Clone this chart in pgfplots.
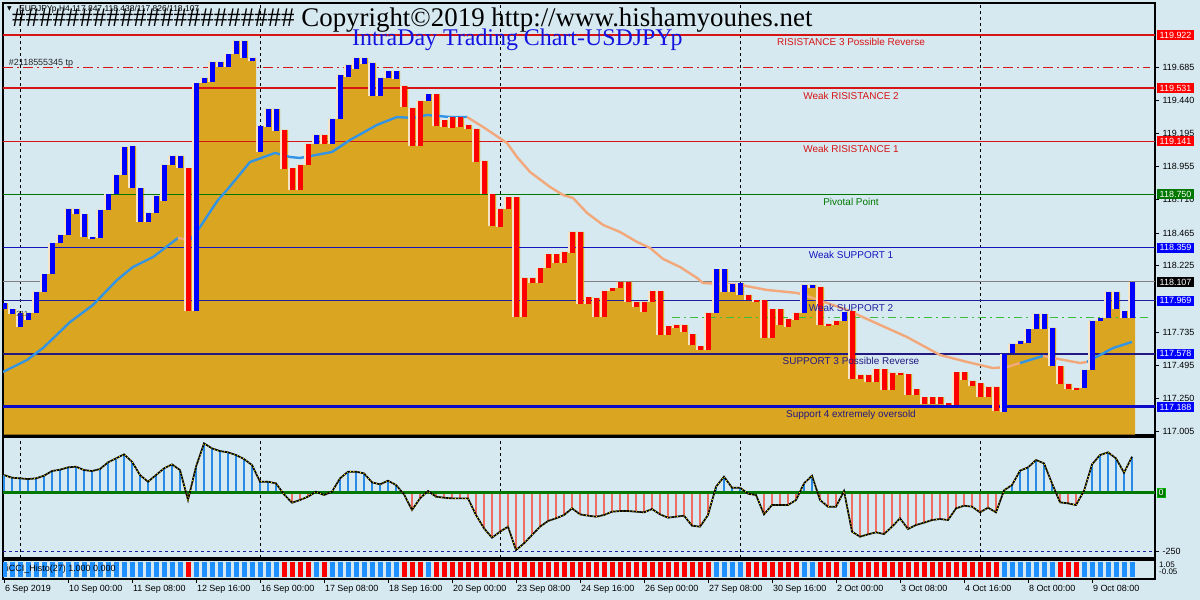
\documentclass[border=0pt]{standalone}
\usepackage{pgfplots}
\pgfplotsset{compat=1.18}
\usepackage{pgfplotstable}
\usepackage{fontspec}
\setmainfont{Liberation Sans}
\newfontfamily\titleserif{Liberation Serif}
\newfontfamily\dejavu{DejaVu Sans}
\newcommand\tf{\fontsize{9}{10.5}\selectfont}
\newcommand\lf{\fontsize{10}{12}\selectfont}
\definecolor{bg}{RGB}{214,233,241}
\definecolor{gold}{RGB}{218,165,32}
\definecolor{barblue}{RGB}{0,0,255}
\definecolor{barred}{RGB}{255,0,0}
\definecolor{pale}{RGB}{246,228,200}
\definecolor{mablue}{RGB}{52,148,228}
\definecolor{maorange}{RGB}{242,168,122}
\definecolor{stemblue}{RGB}{40,140,230}
\definecolor{stemred}{RGB}{238,110,95}
\definecolor{stripblue}{RGB}{30,144,255}
\definecolor{levred}{RGB}{215,20,20}
\definecolor{levgreen}{RGB}{0,120,0}
\definecolor{s1blue}{RGB}{20,20,190}
\definecolor{s2blue}{RGB}{30,30,160}
\definecolor{s3navy}{RGB}{35,25,130}
\definecolor{s4blue}{RGB}{10,10,200}
\definecolor{subblue}{RGB}{20,20,225}
\definecolor{dashgreen}{RGB}{60,190,60}

\pgfplotstableread{
i lo hi c cci
1 117.908 117.952 1 74.8
2 117.872 117.908 1 63.5
3 117.776 117.879 1 60.7
4 117.827 117.879 1 57.9
5 117.879 118.033 1 60.7
6 118.033 118.165 1 72.0
7 118.165 118.393 1 91.8
8 118.393 118.452 1 97.4
9 118.452 118.643 1 107.3
10 118.606 118.643 1 110.1
11 118.437 118.606 1 96.0
12 118.423 118.437 1 91.8
13 118.430 118.636 1 100.3
14 118.636 118.753 1 128.5
15 118.753 118.893 1 145.4
16 118.893 119.099 1 162.4
17 118.797 119.106 1 131.3
18 118.548 118.797 1 74.8
19 118.548 118.614 1 46.6
20 118.614 118.739 1 74.8
21 118.702 118.967 1 103.1
22 118.967 119.033 1 120.0
23 118.944 119.033 1 96.0
24 117.893 118.944 0 -31.1
25 117.893 119.569 1 110.1
26 119.569 119.606 1 209.0
27 119.577 119.724 1 187.8
28 119.687 119.724 1 176.5
29 119.687 119.782 1 170.9
30 119.782 119.878 1 159.6
31 119.753 119.878 1 142.6
32 119.731 119.753 1 117.2
33 119.062 119.253 1 46.6
34 119.246 119.378 1 46.6
35 119.217 119.378 1 39.5
36 118.937 119.224 0 -7.1
37 118.783 118.944 0 -42.4
38 118.783 118.967 0 -31.1
39 118.967 119.121 0 -16.9
40 119.121 119.187 1 4.2
41 119.121 119.187 0 -9.9
42 119.121 119.305 1 4.2
43 119.305 119.628 1 60.7
44 119.613 119.702 1 89.0
45 119.672 119.753 1 89.0
46 119.709 119.753 1 81.9
47 119.474 119.716 1 43.8
48 119.474 119.606 1 35.3
49 119.606 119.657 1 50.8
50 119.599 119.657 1 32.5
51 119.393 119.547 0 -7.1
52 119.106 119.386 0 -73.4
53 119.106 119.437 0 -24.0
54 119.437 119.488 1 7.1
55 119.253 119.488 0 -16.9
56 119.246 119.297 0 -21.2
57 119.239 119.319 0 -24.0
58 119.246 119.319 0 -24.0
59 119.231 119.261 0 -24.0
60 118.989 119.231 0 -94.6
61 118.753 118.996 0 -151.1
62 118.518 118.753 0 -190.6
63 118.511 118.643 0 -165.2
64 118.643 118.731 0 -144.0
65 117.849 118.731 0 -242.9
66 117.849 118.136 0 -214.6
67 118.099 118.136 0 -179.3
68 118.099 118.209 0 -144.0
69 118.209 118.312 0 -120.0
70 118.246 118.312 0 -108.7
71 118.246 118.327 0 -94.6
72 118.320 118.474 0 -66.4
73 117.945 118.474 0 -91.8
74 117.945 117.996 0 -97.4
75 117.849 117.989 0 -101.7
76 117.849 118.040 0 -94.6
77 118.040 118.062 0 -80.5
78 118.062 118.107 0 -77.7
79 117.960 118.107 0 -77.7
80 117.923 117.960 0 -80.5
81 117.886 117.960 0 -83.3
82 117.960 118.040 0 -69.2
83 117.717 118.040 0 -91.8
84 117.717 117.783 0 -105.9
85 117.769 117.791 0 -101.7
86 117.739 117.791 0 -97.4
87 117.644 117.724 0 -139.8
88 117.607 117.636 0 -144.0
89 117.607 117.879 0 -94.6
90 117.879 118.202 1 25.4
91 118.033 118.202 1 67.8
92 118.033 118.092 1 21.2
93 118.011 118.099 1 21.2
94 117.974 118.011 0 -4.2
95 117.960 117.974 0 -9.9
96 117.695 117.974 0 -91.8
97 117.695 117.908 0 -52.2
98 117.791 117.908 0 -52.2
99 117.776 117.835 0 -52.2
100 117.827 117.879 0 -31.1
101 117.879 118.085 1 39.5
102 118.062 118.085 1 72.0
103 117.791 118.070 0 -31.1
104 117.783 117.798 0 -59.3
105 117.791 117.820 0 -59.3
106 117.820 117.886 1 7.0
107 117.394 117.893 0 -165.2
108 117.394 117.423 0 -186.4
109 117.372 117.423 0 -176.5
110 117.372 117.467 0 -168.0
111 117.313 117.467 0 -175.1
112 117.313 117.438 0 -144.0
113 117.423 117.438 0 -108.7
114 117.276 117.430 0 -153.9
115 117.276 117.320 0 -137.0
116 117.210 117.261 0 -127.1
117 117.210 117.261 0 -115.8
118 117.210 117.261 0 -111.5
119 117.202 117.217 0 -115.8
120 117.202 117.445 0 -66.4
121 117.386 117.445 0 -55.1
122 117.342 117.379 0 -59.3
123 117.261 117.364 0 -83.3
124 117.261 117.335 0 -63.5
125 117.158 117.335 0 -83.3
126 117.151 117.577 1 10.0
127 117.585 117.651 1 32.5
128 117.651 117.673 1 93.2
129 117.658 117.761 1 107.3
130 117.761 117.872 1 138.4
131 117.761 117.872 1 124.3
132 117.489 117.769 1 39.5
133 117.357 117.489 0 -40.9
134 117.320 117.357 0 -45.2
135 117.313 117.328 0 -52.2
136 117.328 117.460 1 8.0
137 117.460 117.820 1 120.0
138 117.820 117.842 1 159.6
139 117.842 118.033 1 170.9
140 117.908 118.033 1 145.4
141 117.842 117.893 1 84.7
142 117.842 118.107 1 152.5
}\bars

\begin{document}
\begin{tikzpicture}
\fill[bg] (0bp,0bp) rectangle (1200bp,600bp);

%================ MAIN PANEL
\begin{axis}[
  at={(3bp,165bp)}, anchor=south west, scale only axis,
  width=1152bp, height=432bp,
  xmin=0.875, xmax=144.875, ymin=116.982, ymax=120.157,
  axis line style={black, line width=1.2bp},
  clip mode=individual,
  xtick=\empty,
  ytick={117.005,117.250,117.495,117.735,118.225,118.465,118.710,118.955,119.195,119.440,119.685},
  yticklabels={117.005,117.250,117.495,117.735,118.225,118.465,118.710,118.955,119.195,119.440,119.685},
  ytick pos=right, yticklabel pos=right, tick align=outside, major tick length=4bp,
  tick style={black, line width=0.8bp},
  yticklabel style={font=\tf, text=black},
]
% day separators
\addplot [black, line width=0.9bp, dash pattern=on 3bp off 3bp] coordinates {(3,116.99) (3,120.15)};
\addplot [black, line width=0.9bp, dash pattern=on 3bp off 3bp] coordinates {(33,116.99) (33,120.15)};
\addplot [black, line width=0.9bp, dash pattern=on 3bp off 3bp] coordinates {(63,116.99) (63,120.15)};
\addplot [black, line width=0.9bp, dash pattern=on 3bp off 3bp] coordinates {(93,116.99) (93,120.15)};
\addplot [black, line width=0.9bp, dash pattern=on 3bp off 3bp] coordinates {(123,116.99) (123,120.15)};
% current price line and tp line
\addplot [gray, line width=1bp] coordinates {(0.875,118.107) (144.875,118.107)};
\addplot [levred, line width=1bp, dash pattern=on 10bp off 4bp on 2bp off 4bp] coordinates {(0.875,119.685) (144.25,119.685)};
% gold area under the body tops
\addplot [fill=gold, draw=none, mark=none, const plot mark mid] table [x=i, y=hi] {\bars}
   -- (axis cs:142.4,118.107) -- (axis cs:142.4,116.985) -- (axis cs:1,116.985) -- cycle;
% level lines
\addplot [levred, line width=2.5bp] coordinates {(0.875,119.922) (144.875,119.922)};
\addplot [levred, line width=1.5bp] coordinates {(0.875,119.531) (144.875,119.531)};
\addplot [levred, line width=1bp] coordinates {(0.875,119.141) (144.875,119.141)};
\addplot [levgreen, line width=1bp] coordinates {(0.875,118.750) (144.875,118.750)};
\addplot [s1blue, line width=1.2bp] coordinates {(0.875,118.359) (144.875,118.359)};
\addplot [s2blue, line width=1.2bp] coordinates {(0.875,117.969) (144.875,117.969)};
\addplot [dashgreen, line width=1bp, dash pattern=on 8bp off 4bp on 2bp off 4bp] coordinates {(84.5,117.849) (144.25,117.849)};
\addplot [s3navy, line width=2.5bp] coordinates {(0.875,117.578) (144.875,117.578)};
\addplot [s4blue, line width=3bp] coordinates {(0.875,117.188) (144.875,117.188)};
% moving average
\addplot [mablue, line width=2.4bp, mark=none] coordinates {(0.875,117.445) (3.875,117.533) (5.875,117.621) (9.25,117.812) (12.125,117.938) (15.125,118.121) (17.125,118.217) (19.625,118.290) (22.75,118.43)};
\addplot [maorange, line width=2.4bp, mark=none] coordinates {(22.75,118.43) (24.25,118.415)};
\addplot [mablue, line width=2.4bp, mark=none] coordinates {(24.25,118.415) (25.5,118.511) (27.75,118.709) (28.875,118.783) (31.75,118.988) (34.875,119.055) (36.75,119.025) (38,119.018) (42,119.062) (44.25,119.150) (47.625,119.261) (50.125,119.319) (52.125,119.312) (53.875,119.334) (56.75,119.319) (58.875,119.319)};
\addplot [maorange, line width=2.4bp, mark=none] coordinates {(58.875,119.319) (60.875,119.246) (63.875,119.128) (65.125,119.025) (66.75,118.915) (69.25,118.805) (70.875,118.746) (72.125,118.724) (73.875,118.614) (75.875,118.526) (78,118.474) (80.125,118.401) (81.75,118.357) (83.375,118.276) (85.5,118.217) (87.625,118.136) (88.375,118.099) (93,118.085) (96.375,118.048) (100.125,118.026) (101.75,117.996) (106.375,117.901) (110.5,117.791) (113.875,117.702) (118,117.570) (121.375,117.519) (124.625,117.474) (126.375,117.482) (128,117.511)};
\addplot [mablue, line width=2.4bp, mark=none] coordinates {(128,117.511) (130.875,117.563)};
\addplot [maorange, line width=2.4bp, mark=none] coordinates {(130.875,117.563) (132.125,117.548) (135.5,117.511) (136.375,117.519)};
\addplot [mablue, line width=2.4bp, mark=none] coordinates {(136.375,117.519) (139.625,117.621) (142,117.666)};
% bar bodies: pale outline, then coloured bodies
\addplot [draw=none, mark=none, error bars/.cd, y dir=plus, y explicit, error mark=none,
  error bar style={line width=6.5bp, draw=pale, line cap=butt, solid}]
  table [x expr=\thisrow{i}-0.08, y=lo, y error expr=\thisrow{hi}-\thisrow{lo}] {\bars};
\addplot [draw=none, mark=none, restrict expr to domain={\thisrow{c}}{0.5:1.5},
  error bars/.cd, y dir=plus, y explicit, error mark=none,
  error bar style={line width=5bp, draw=barblue, line cap=butt, solid}]
  table [x=i, y=lo, y error expr=\thisrow{hi}-\thisrow{lo}] {\bars};
\addplot [draw=none, mark=none, restrict expr to domain={\thisrow{c}}{-0.5:0.5},
  error bars/.cd, y dir=plus, y explicit, error mark=none,
  error bar style={line width=5bp, draw=barred, line cap=butt, solid}]
  table [x=i, y=lo, y error expr=\thisrow{hi}-\thisrow{lo}] {\bars};
% level texts
\node[text=levred, font=\lf, anchor=north, inner sep=0, yshift=-3.5bp] at (axis cs:106.875,119.922) {RISISTANCE 3 Possible Reverse};
\node[text=levred, font=\lf, anchor=north, inner sep=0, yshift=-3.5bp] at (axis cs:106.875,119.531) {Weak RISISTANCE 2};
\node[text=levred, font=\lf, anchor=north, inner sep=0, yshift=-3.5bp] at (axis cs:106.875,119.141) {Weak RISISTANCE 1};
\node[text=levgreen, font=\lf, anchor=north, inner sep=0, yshift=-3.5bp] at (axis cs:106.875,118.750) {Pivotal Point};
\node[text=s1blue, font=\lf, anchor=north, inner sep=0, yshift=-3.5bp] at (axis cs:106.875,118.359) {Weak SUPPORT 1};
\node[text=s2blue, font=\lf, anchor=north, inner sep=0, yshift=-3.5bp] at (axis cs:106.875,117.969) {Weak SUPPORT 2};
\node[text=s3navy, font=\lf, anchor=north, inner sep=0, yshift=-3.5bp] at (axis cs:106.875,117.578) {SUPPORT 3 Possible Reverse};
\node[text=s3navy, font=\lf, anchor=north, inner sep=0, yshift=-3.5bp] at (axis cs:106.875,117.188) {Support 4 extremely oversold};
\node[text=black!85, font=\tf, anchor=base west, inner sep=0, yshift=2bp] at (axis cs:1.6,119.685) {\#2118555345 tp};
\node[text=black!70, font=\fontsize{7.5}{8}\selectfont, inner sep=0] at (axis cs:3.3,117.875) {211};
% anchors for right-hand price boxes
\coordinate (b1) at (axis cs:144.875,119.922);
\coordinate (b2) at (axis cs:144.875,119.531);
\coordinate (b3) at (axis cs:144.875,119.141);
\coordinate (b4) at (axis cs:144.875,118.750);
\coordinate (b5) at (axis cs:144.875,118.359);
\coordinate (b6) at (axis cs:144.875,118.107);
\coordinate (b7) at (axis cs:144.875,117.969);
\coordinate (b8) at (axis cs:144.875,117.578);
\coordinate (b9) at (axis cs:144.875,117.188);
\end{axis}

%================ CCI PANEL
\begin{axis}[
  at={(3bp,42bp)}, anchor=south west, scale only axis,
  width=1152bp, height=121bp,
  xmin=0.875, xmax=144.875, ymin=-276.7, ymax=236,
  axis line style={black, line width=1.2bp},
  clip mode=individual,
  xtick=\empty, ytick={-250}, yticklabels={-250},
  ytick pos=right, yticklabel pos=right, tick align=outside, major tick length=4bp,
  tick style={black, line width=0.8bp},
  yticklabel style={font=\tf, text=black},
]
\addplot [black, line width=0.9bp, dash pattern=on 3bp off 3bp] coordinates {(3,-276) (3,235)};
\addplot [black, line width=0.9bp, dash pattern=on 3bp off 3bp] coordinates {(33,-276) (33,235)};
\addplot [black, line width=0.9bp, dash pattern=on 3bp off 3bp] coordinates {(63,-276) (63,235)};
\addplot [black, line width=0.9bp, dash pattern=on 3bp off 3bp] coordinates {(93,-276) (93,235)};
\addplot [black, line width=0.9bp, dash pattern=on 3bp off 3bp] coordinates {(123,-276) (123,235)};
\addplot [s2blue, line width=1bp, dash pattern=on 3bp off 3bp] coordinates {(0.875,-250) (144.875,-250)};
\addplot [ycomb, draw=stemblue, color=stemblue, line width=1.1bp, mark=none, restrict y to domain=0:1000] table [x=i, y=cci] {\bars};
\addplot [ycomb, draw=stemred, color=stemred, line width=1.1bp, mark=none, restrict y to domain=-1000:0] table [x=i, y=cci] {\bars};
\addplot [levgreen, line width=2.5bp] coordinates {(0.875,0) (144.875,0)};
\addplot [black, line width=1.7bp, mark=none] table [x=i, y=cci] {\bars};
\addplot [yellow!85!orange, line width=0.9bp, mark=none, dash pattern=on 0.8bp off 2.6bp] table [x=i, y=cci] {\bars};
\coordinate (z0) at (axis cs:144.875,0);
\end{axis}

%================ CCI HISTO STRIP
\begin{axis}[
  at={(3bp,21bp)}, anchor=south west, scale only axis,
  width=1152bp, height=19bp,
  xmin=0.875, xmax=144.875, ymin=-0.13, ymax=1.13,
  axis line style={black, line width=1.2bp},
  clip mode=individual,
  ytick=\empty,
  xtick={1,9,...,137},
  xticklabels={6 Sep 2019,10 Sep 00:00,11 Sep 08:00,12 Sep 16:00,16 Sep 00:00,17 Sep 08:00,18 Sep 16:00,20 Sep 00:00,23 Sep 08:00,24 Sep 16:00,26 Sep 00:00,27 Sep 08:00,30 Sep 16:00,2 Oct 00:00,3 Oct 08:00,4 Oct 16:00,8 Oct 00:00,9 Oct 08:00},
  xtick pos=lower, tick align=outside, major tick length=4bp,
  tick style={black, line width=0.8bp},
  xticklabel style={font=\tf, text=black, anchor=north west, xshift=-2.5bp, yshift=1bp},
]
\addplot [ycomb, color=stripblue, line width=5bp, line cap=butt, mark=none, restrict expr to domain={\thisrow{c}}{0.5:1.5}] table [x=i, y expr=1] {\bars};
\addplot [ycomb, color=barred, line width=5bp, line cap=butt, mark=none, restrict expr to domain={\thisrow{c}}{-0.5:0.5}] table [x=i, y expr=1] {\bars};
\node[font=\tf, text=black, anchor=west, inner sep=0] at (axis cs:1.35,0.5) {iCCI\_Histo(27) 1.000 0.000};
\end{axis}

%================ right-hand boxes
\tikzset{pbox/.style={anchor=west, xshift=2bp, font=\tf, text=white, inner xsep=2.5bp, inner ysep=1.8bp}}
\node[pbox, fill=red] at (b1) {119.922};
\node[pbox, fill=red] at (b2) {119.531};
\node[pbox, fill=red] at (b3) {119.141};
\node[pbox, fill=levgreen] at (b4) {118.750};
\node[pbox, fill=blue] at (b5) {118.359};
\node[pbox, fill=black] at (b6) {118.107};
\node[pbox, fill=blue] at (b7) {117.969};
\node[pbox, fill=blue] at (b8) {117.578};
\node[pbox, fill=blue] at (b9) {117.188};
\node[anchor=west, xshift=2bp, font=\tf, text=white, fill=levgreen, draw=green!70!black, inner xsep=1.5bp, inner ysep=1.2bp] at (z0) {0};
\node[anchor=west, font=\fontsize{8}{8}\selectfont, inner sep=0] at (1159bp,35bp) {1.05};
\node[anchor=west, font=\fontsize{8}{8}\selectfont, inner sep=0] at (1159bp,28bp) {-0.05};

%================ titles
\node[anchor=base west, inner sep=0, font=\fontsize{8.5}{9}\selectfont] at (19bp,588bp) {EURJPYp,H4 117.847 118.438/117.826/118.107};
\node[anchor=base west, inner sep=0, font=\dejavu\fontsize{6}{7}\selectfont] at (7bp,589bp) {▼};
\node[anchor=base west, inner sep=0, font=\titleserif\fontsize{27}{30}\selectfont] at (12bp,573bp) {\#\#\#\#\#\#\#\#\#\#\#\#\#\#\#\#\#\#\#\#\# Copyright©2019 http://www.hishamyounes.net};
\node[anchor=base west, inner sep=0, text=subblue, font=\titleserif\fontsize{24}{27}\selectfont] at (352bp,554bp) {IntraDay Trading Chart-USDJPYp};
\end{tikzpicture}
\end{document}
